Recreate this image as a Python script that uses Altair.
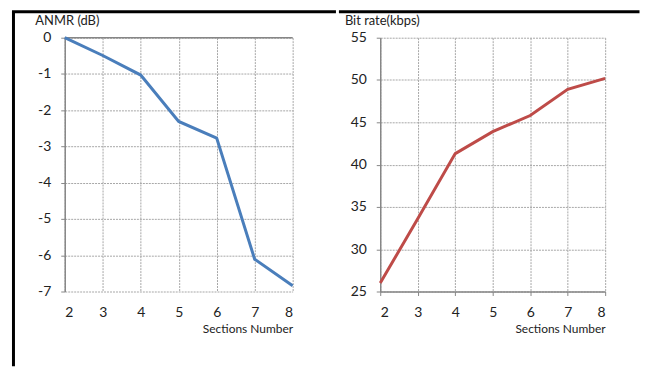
import altair as alt
import pandas as pd

sections = [2, 3, 4, 5, 6, 7, 8]
anmr = [0, -0.49, -1.03, -2.31, -2.77, -6.11, -6.84]
bitrate = [26.0, 33.6, 41.3, 43.9, 45.8, 48.9, 50.2]
anmr_ticks = [0, -1, -2, -3, -4, -5, -6, -7]
bitrate_ticks = [25, 30, 35, 40, 45, 50, 55]

df = pd.DataFrame({"sections": sections, "anmr": anmr, "bitrate": bitrate})
one = pd.DataFrame({"k": [0]})

FONT = "Lato"
AXC = "#868686"
GRIDC = "#a6a6a6"


def x_axis(domain):
    return alt.Axis(
        values=sections, labelExpr="'' + datum.value", title="Sections Number",
        titleAnchor="end", titleAlign="right", titleFontWeight="normal",
        titleFontSize=12, titlePadding=4, labelFontSize=14, labelOverlap=False,
        labelPadding=10 if domain else 14, domain=domain, domainColor=AXC,
        domainWidth=1.5, ticks=domain, tickSize=4, tickColor=AXC,
        grid=True, gridColor=GRIDC, gridDash=[2, 1], gridWidth=1,
        labelColor="#222", titleColor="#222",
    )


def y_axis(title, values, tx):
    return alt.Axis(
        values=values, labelExpr="'' + datum.value", title=title, titleAngle=0,
        titleAlign="left", titleBaseline="middle", titleX=tx, titleY=-17,
        titleFontSize=13, titleFontWeight="normal", labelFontSize=14,
        labelPadding=10, labelOverlap=False,
        domain=True, domainColor=AXC, domainWidth=1.5, ticks=True, tickSize=4,
        tickColor=AXC, grid=True, gridColor=GRIDC, gridDash=[2, 1], gridWidth=1,
        labelColor="#222", titleColor="#222",
    )


xs = alt.Scale(domain=[2, 8], nice=False, zero=False)
ys_left = alt.Scale(domain=[-7, 0], nice=False, zero=False)
left_y_axis = y_axis("ANMR (dB)", anmr_ticks, -30)

left_line = alt.Chart(df).mark_line(color="#4A7EBB", strokeWidth=3).encode(
    x=alt.X("sections:Q", scale=xs, axis=x_axis(False)),
    y=alt.Y("anmr:Q", scale=ys_left, axis=left_y_axis),
)
zero_rule = alt.Chart(one).mark_rule(color=AXC, strokeWidth=1.5).encode(
    y=alt.Y("k:Q", scale=ys_left, axis=left_y_axis))
frame_v = alt.Chart(one).mark_rule(color="black", strokeWidth=3).encode(
    x=alt.value(-51.5), y=alt.value(-26), y2=alt.value(330))
frame_hl = alt.Chart(one).mark_rule(color="black", strokeWidth=3, strokeCap="square").encode(
    x=alt.value(-51.5), x2=alt.value(271), y=alt.value(-26))

left = alt.layer(zero_rule, left_line, frame_v, frame_hl).properties(width=229, height=255)

right_line = alt.Chart(df).mark_line(color="#BE4B48", strokeWidth=3).encode(
    x=alt.X("sections:Q", scale=xs, axis=x_axis(True)),
    y=alt.Y("bitrate:Q", scale=alt.Scale(domain=[25, 55], nice=False, zero=False),
            axis=y_axis("Bit rate(kbps)", bitrate_ticks, -36)),
)
frame_hr = alt.Chart(one).mark_rule(color="black", strokeWidth=3, strokeCap="square").encode(
    x=alt.value(-40), x2=alt.value(259), y=alt.value(-26))

right = alt.layer(right_line, frame_hr).properties(width=226, height=255)

chart = alt.hconcat(left, right, spacing=0).properties(
    padding={"left": 3, "top": 0, "right": 0, "bottom": 0},
    background="white",
).configure_view(stroke=None).configure_axis(
    labelFont=FONT, titleFont=FONT, labelOverlap=False
)

chart.save("out.html", embed_options={"renderer": "svg", "actions": False})
